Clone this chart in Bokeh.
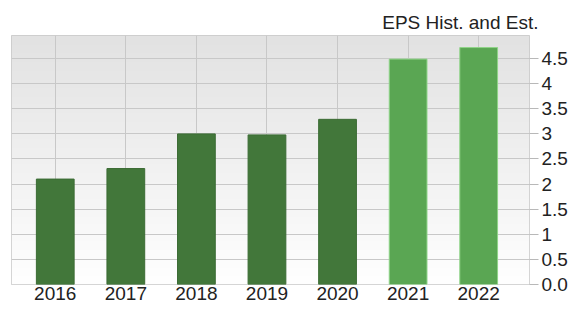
import numpy as np
from bokeh.plotting import figure
from bokeh.models import FixedTicker, ColumnDataSource
from bokeh.embed import file_html
from bokeh.resources import INLINE

years = [2016, 2017, 2018, 2019, 2020, 2021, 2022]
eps = [2.10, 2.31, 3.00, 2.98, 3.29, 4.49, 4.72]
kind = ["hist", "hist", "hist", "hist", "hist", "est", "est"]
y_ticks = [0, 0.5, 1, 1.5, 2, 2.5, 3, 3.5, 4, 4.5]
y_tick_labels = ["0.0", "0.5", "1", "1.5", "2", "2.5", "3", "3.5", "4", "4.5"]
title_text = "EPS Hist. and Est."

fill_map = {"hist": "#42773a", "est": "#5aa653"}
line_map = {"hist": "#3b6b34", "est": "#8fd488"}

x0, x1 = 2015.38, 2022.72
y0, y1 = 0, 4.96

p = figure(width=570, height=302, output_backend="svg", toolbar_location=None,
           x_range=(x0, x1), y_range=(y0, y1), y_axis_location="right",
           min_border_left=11, min_border_top=35, min_border_right=0, min_border_bottom=0)
p.background_fill_color = "white"
p.border_fill_color = "white"
p.outline_line_color = "#c8c8c8"

# background gradient (gray at top -> white at bottom)
n = 200
rows = np.linspace(255, 226, n)
img = np.zeros((n, 2), dtype=np.uint32)
view = img.view(dtype=np.uint8).reshape((n, 2, 4))
for i, v in enumerate(rows):
    view[i, :, 0] = int(v)
    view[i, :, 1] = int(v)
    view[i, :, 2] = int(v)
    view[i, :, 3] = 255
p.image_rgba(image=[img], x=x0, y=y0, dw=x1 - x0, dh=y1 - y0, level="image")

src = ColumnDataSource(dict(
    x=years, top=eps,
    fill=[fill_map[k] for k in kind],
    line=[line_map[k] for k in kind],
))
p.vbar(x="x", top="top", bottom=0, width=0.535, source=src,
       fill_color="fill", line_color="line", line_width=1)

p.xaxis.ticker = FixedTicker(ticks=years)
p.xaxis.major_label_overrides = {y: str(y) for y in years}
p.xaxis.axis_line_color = None
p.xaxis.major_tick_line_color = None
p.xaxis.major_tick_out = 0
p.xaxis.major_tick_in = 0
p.xaxis.minor_tick_line_color = None
p.xaxis.minor_tick_out = 0
p.xaxis.axis_label_standoff = 0
p.xaxis.major_label_standoff = 2
p.xaxis.major_label_text_font = "Liberation Sans"
p.xaxis.major_label_text_font_size = "19px"
p.xaxis.major_label_text_color = "#222222"

p.yaxis.ticker = FixedTicker(ticks=y_ticks)
p.yaxis.major_label_overrides = {t: l for t, l in zip(y_ticks, y_tick_labels)}
p.yaxis.axis_line_color = None
p.yaxis.major_tick_line_color = "#b8b8b8"
p.yaxis.major_tick_in = 0
p.yaxis.major_tick_out = 9
p.yaxis.minor_tick_line_color = None
p.yaxis.minor_tick_out = 0
p.yaxis.axis_label_standoff = 0
p.yaxis.major_label_standoff = 3
p.yaxis.major_label_text_font = "Liberation Sans"
p.yaxis.major_label_text_font_size = "19px"
p.yaxis.major_label_text_color = "#222222"

p.xgrid.grid_line_color = "#c8c8c8"
p.ygrid.grid_line_color = "#c8c8c8"
p.xgrid.level = "underlay"
p.ygrid.level = "underlay"

p.title.text = title_text
p.title.align = "right"
p.title.text_font = "Liberation Sans"
p.title.text_font_size = "19px"
p.title.text_font_style = "normal"
p.title.text_color = "#222222"
p.title.offset = -9
p.title.standoff = 5

open("out.html", "w").write(file_html(p, INLINE))
